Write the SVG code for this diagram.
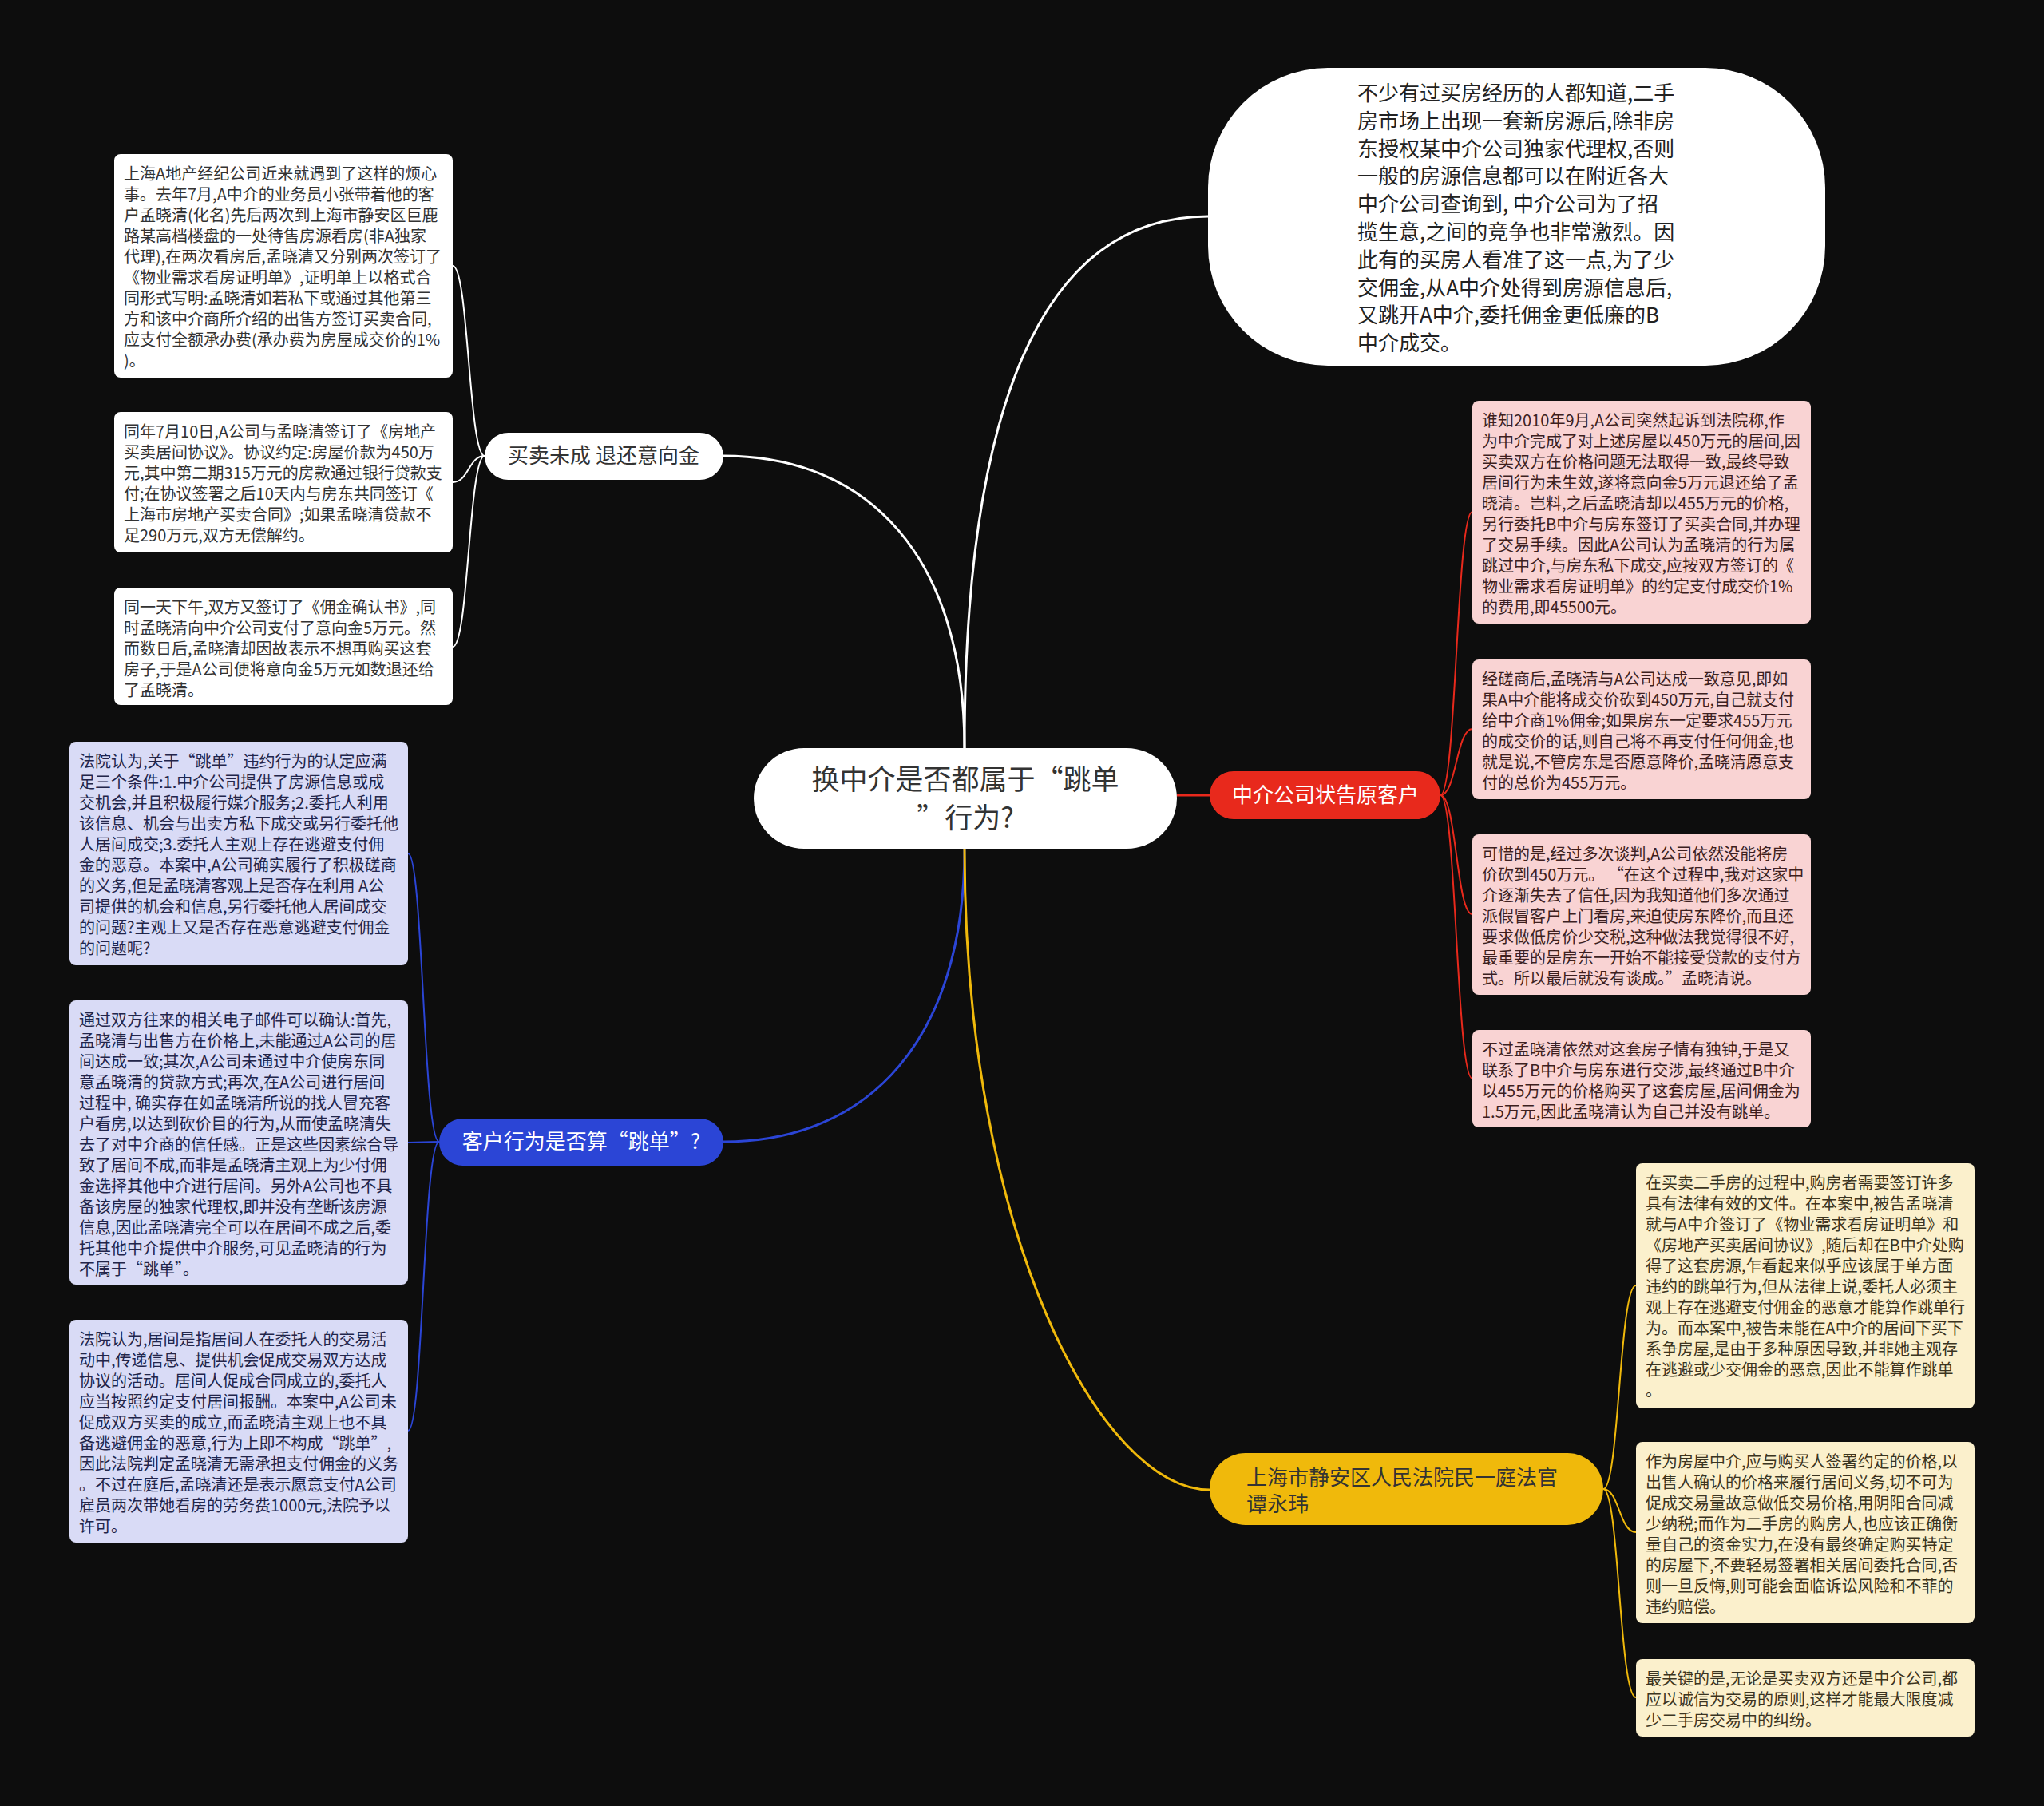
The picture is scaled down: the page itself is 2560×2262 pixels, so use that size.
<svg xmlns="http://www.w3.org/2000/svg" width="2560" height="2262" viewBox="0 0 2560 2262" xml:space="preserve">
<style>
text{font-family:"Noto Sans CJK SC","Noto Sans",sans-serif;}
.bx{font-size:20px;}
.wt{fill:#333333;}
.bt{fill:#22254a;}
.rt{fill:#3d1f1f;}
.yt{fill:#3b3420;}
.lw{fill:none;stroke:#ffffff;}
.lr{fill:none;stroke:#e8291c;}
.lb{fill:none;stroke:#2b45d6;}
.ly{fill:none;stroke:#f0b90b;}
.main{stroke-width:3;}
.sub{stroke-width:2;}
</style>
<rect x="0" y="0" width="2560" height="2262" fill="#0d0d0d"/>
<g id="connectors">
<path class="lw main" d="M1208,937 C1208,520 1300,271 1513,271"/>
<path class="lw main" d="M1208,937 C1208,700 1090,571 906,571"/>
<path class="lr main" d="M1474,996 L1515,996"/>
<path class="lb main" d="M1208,1063 C1208,1300 1090,1430 906,1430"/>
<path class="ly main" d="M1208,1063 C1208,1550 1380,1866 1515,1866"/>
<path class="lw sub" d="M607,571 C587,571 587,333 567,333"/>
<path class="lw sub" d="M607,571 C587,571 587,604 567,604"/>
<path class="lw sub" d="M607,571 C587,571 587,810 567,810"/>
<path class="lr sub" d="M1804,996 C1824,996 1824,641 1844,641"/>
<path class="lr sub" d="M1804,996 C1824,996 1824,913 1844,913"/>
<path class="lr sub" d="M1804,996 C1824,996 1824,1145 1844,1145"/>
<path class="lr sub" d="M1804,996 C1824,996 1824,1351 1844,1351"/>
<path class="lb sub" d="M550,1430 C530,1430 530,1069 511,1069"/>
<path class="lb sub" d="M550,1430 C530,1430 530,1431 511,1431"/>
<path class="lb sub" d="M550,1430 C530,1430 530,1792 511,1792"/>
<path class="ly sub" d="M2008,1865 C2028,1865 2028,1610 2049,1610"/>
<path class="ly sub" d="M2008,1865 C2028,1865 2028,1919 2049,1919"/>
<path class="ly sub" d="M2008,1865 C2028,1865 2028,2126 2049,2126"/>
</g>
<g id="root">
<rect x="944" y="937" width="530" height="126" rx="63" fill="#ffffff"/>
<text x="1209" y="989" font-size="35" fill="#333333" text-anchor="middle"><tspan x="1209">换中介是否都属于“跳单</tspan><tspan x="1209" dy="48">”行为?</tspan></text>
</g>
<g id="bubble">
<rect x="1513" y="85" width="773" height="373" rx="150" fill="#ffffff"/>
<text x="1700" y="126" font-size="26" fill="#222222"><tspan x="1700">不少有过买房经历的人都知道,二手</tspan><tspan x="1700" dy="34.8">房市场上出现一套新房源后,除非房</tspan><tspan x="1700" dy="34.8">东授权某中介公司独家代理权,否则</tspan><tspan x="1700" dy="34.8">一般的房源信息都可以在附近各大</tspan><tspan x="1700" dy="34.8">中介公司查询到, 中介公司为了招</tspan><tspan x="1700" dy="34.8">揽生意,之间的竞争也非常激烈。因</tspan><tspan x="1700" dy="34.8">此有的买房人看准了这一点,为了少</tspan><tspan x="1700" dy="34.8">交佣金,从A中介处得到房源信息后,</tspan><tspan x="1700" dy="34.8">又跳开A中介,委托佣金更低廉的B</tspan><tspan x="1700" dy="34.8">中介成交。</tspan></text>
</g>
<g id="node-maimai">
<rect x="607" y="542" width="299" height="59" rx="29.5" fill="#ffffff"/>
<text x="756" y="580" font-size="26" fill="#333333" text-anchor="middle">买卖未成 退还意向金</text>
</g>
<g id="node-red">
<rect x="1515" y="966" width="289" height="60" rx="30" fill="#e8291c"/>
<text x="1660" y="1005" font-size="26" fill="#ffffff" text-anchor="middle">中介公司状告原客户</text>
</g>
<g id="node-blue">
<rect x="550" y="1401" width="356" height="59" rx="29.5" fill="#2b45d6"/>
<text x="728" y="1439" font-size="26" fill="#ffffff" text-anchor="middle">客户行为是否算“跳单”?</text>
</g>
<g id="node-yellow">
<rect x="1515" y="1820" width="493" height="90" rx="45" fill="#f0b90b"/>
<text x="1561" y="1860" font-size="26" fill="#333333"><tspan x="1561">上海市静安区人民法院民一庭法官</tspan><tspan x="1561" dy="33">谭永玮</tspan></text>
</g>
<g id="box-l1">
<rect x="143" y="193" width="424" height="280" rx="8" fill="#ffffff"/>
<text class="bx wt" x="155" y="225"><tspan x="155">上海A地产经纪公司近来就遇到了这样的烦心</tspan><tspan x="155" dy="26">事。去年7月,A中介的业务员小张带着他的客</tspan><tspan x="155" dy="26">户孟晓清(化名)先后两次到上海市静安区巨鹿</tspan><tspan x="155" dy="26">路某高档楼盘的一处待售房源看房(非A独家</tspan><tspan x="155" dy="26">代理),在两次看房后,孟晓清又分别两次签订了</tspan><tspan x="155" dy="26">《物业需求看房证明单》,证明单上以格式合</tspan><tspan x="155" dy="26">同形式写明:孟晓清如若私下或通过其他第三</tspan><tspan x="155" dy="26">方和该中介商所介绍的出售方签订买卖合同,</tspan><tspan x="155" dy="26">应支付全额承办费(承办费为房屋成交价的1%</tspan><tspan x="155" dy="26">)。</tspan></text>
</g>
<g id="box-l2">
<rect x="143" y="516" width="424" height="176" rx="8" fill="#ffffff"/>
<text class="bx wt" x="155" y="548"><tspan x="155">同年7月10日,A公司与孟晓清签订了《房地产</tspan><tspan x="155" dy="26">买卖居间协议》。协议约定:房屋价款为450万</tspan><tspan x="155" dy="26">元,其中第二期315万元的房款通过银行贷款支</tspan><tspan x="155" dy="26">付;在协议签署之后10天内与房东共同签订《</tspan><tspan x="155" dy="26">上海市房地产买卖合同》;如果孟晓清贷款不</tspan><tspan x="155" dy="26">足290万元,双方无偿解约。</tspan></text>
</g>
<g id="box-l3">
<rect x="143" y="736" width="424" height="147" rx="8" fill="#ffffff"/>
<text class="bx wt" x="155" y="768"><tspan x="155">同一天下午,双方又签订了《佣金确认书》,同</tspan><tspan x="155" dy="26">时孟晓清向中介公司支付了意向金5万元。然</tspan><tspan x="155" dy="26">而数日后,孟晓清却因故表示不想再购买这套</tspan><tspan x="155" dy="26">房子,于是A公司便将意向金5万元如数退还给</tspan><tspan x="155" dy="26">了孟晓清。</tspan></text>
</g>
<g id="box-b1">
<rect x="87" y="929" width="424" height="280" rx="8" fill="#d9dbf6"/>
<text class="bx bt" x="99" y="961"><tspan x="99">法院认为,关于“跳单”违约行为的认定应满</tspan><tspan x="99" dy="26">足三个条件:1.中介公司提供了房源信息或成</tspan><tspan x="99" dy="26">交机会,并且积极履行媒介服务;2.委托人利用</tspan><tspan x="99" dy="26">该信息、机会与出卖方私下成交或另行委托他</tspan><tspan x="99" dy="26">人居间成交;3.委托人主观上存在逃避支付佣</tspan><tspan x="99" dy="26">金的恶意。本案中,A公司确实履行了积极磋商</tspan><tspan x="99" dy="26">的义务,但是孟晓清客观上是否存在利用  A公</tspan><tspan x="99" dy="26">司提供的机会和信息,另行委托他人居间成交</tspan><tspan x="99" dy="26">的问题?主观上又是否存在恶意逃避支付佣金</tspan><tspan x="99" dy="26">的问题呢?</tspan></text>
</g>
<g id="box-b2">
<rect x="87" y="1253" width="424" height="356" rx="8" fill="#d9dbf6"/>
<text class="bx bt" x="99" y="1285"><tspan x="99">通过双方往来的相关电子邮件可以确认:首先,</tspan><tspan x="99" dy="26">孟晓清与出售方在价格上,未能通过A公司的居</tspan><tspan x="99" dy="26">间达成一致;其次,A公司未通过中介使房东同</tspan><tspan x="99" dy="26">意孟晓清的贷款方式;再次,在A公司进行居间</tspan><tspan x="99" dy="26">过程中, 确实存在如孟晓清所说的找人冒充客</tspan><tspan x="99" dy="26">户看房,以达到砍价目的行为,从而使孟晓清失</tspan><tspan x="99" dy="26">去了对中介商的信任感。正是这些因素综合导</tspan><tspan x="99" dy="26">致了居间不成,而非是孟晓清主观上为少付佣</tspan><tspan x="99" dy="26">金选择其他中介进行居间。另外A公司也不具</tspan><tspan x="99" dy="26">备该房屋的独家代理权,即并没有垄断该房源</tspan><tspan x="99" dy="26">信息,因此孟晓清完全可以在居间不成之后,委</tspan><tspan x="99" dy="26">托其他中介提供中介服务,可见孟晓清的行为</tspan><tspan x="99" dy="26">不属于“跳单”。</tspan></text>
</g>
<g id="box-b3">
<rect x="87" y="1653" width="424" height="279" rx="8" fill="#d9dbf6"/>
<text class="bx bt" x="99" y="1685"><tspan x="99">法院认为,居间是指居间人在委托人的交易活</tspan><tspan x="99" dy="26">动中,传递信息、提供机会促成交易双方达成</tspan><tspan x="99" dy="26">协议的活动。居间人促成合同成立的,委托人</tspan><tspan x="99" dy="26">应当按照约定支付居间报酬。本案中,A公司未</tspan><tspan x="99" dy="26">促成双方买卖的成立,而孟晓清主观上也不具</tspan><tspan x="99" dy="26">备逃避佣金的恶意,行为上即不构成“跳单”,</tspan><tspan x="99" dy="26">因此法院判定孟晓清无需承担支付佣金的义务</tspan><tspan x="99" dy="26">。不过在庭后,孟晓清还是表示愿意支付A公司</tspan><tspan x="99" dy="26">雇员两次带她看房的劳务费1000元,法院予以</tspan><tspan x="99" dy="26">许可。</tspan></text>
</g>
<g id="box-r1">
<rect x="1844" y="502" width="424" height="279" rx="8" fill="#f9d3d3"/>
<text class="bx rt" x="1856" y="534"><tspan x="1856">谁知2010年9月,A公司突然起诉到法院称,作</tspan><tspan x="1856" dy="26">为中介完成了对上述房屋以450万元的居间,因</tspan><tspan x="1856" dy="26">买卖双方在价格问题无法取得一致,最终导致</tspan><tspan x="1856" dy="26">居间行为未生效,遂将意向金5万元退还给了孟</tspan><tspan x="1856" dy="26">晓清。岂料,之后孟晓清却以455万元的价格,</tspan><tspan x="1856" dy="26">另行委托B中介与房东签订了买卖合同,并办理</tspan><tspan x="1856" dy="26">了交易手续。因此A公司认为孟晓清的行为属</tspan><tspan x="1856" dy="26">跳过中介,与房东私下成交,应按双方签订的《</tspan><tspan x="1856" dy="26">物业需求看房证明单》的约定支付成交价1%</tspan><tspan x="1856" dy="26">的费用,即45500元。</tspan></text>
</g>
<g id="box-r2">
<rect x="1844" y="826" width="424" height="175" rx="8" fill="#f9d3d3"/>
<text class="bx rt" x="1856" y="858"><tspan x="1856">经磋商后,孟晓清与A公司达成一致意见,即如</tspan><tspan x="1856" dy="26">果A中介能将成交价砍到450万元,自己就支付</tspan><tspan x="1856" dy="26">给中介商1%佣金;如果房东一定要求455万元</tspan><tspan x="1856" dy="26">的成交价的话,则自己将不再支付任何佣金,也</tspan><tspan x="1856" dy="26">就是说,不管房东是否愿意降价,孟晓清愿意支</tspan><tspan x="1856" dy="26">付的总价为455万元。</tspan></text>
</g>
<g id="box-r3">
<rect x="1844" y="1045" width="424" height="201" rx="8" fill="#f9d3d3"/>
<text class="bx rt" x="1856" y="1077"><tspan x="1856">可惜的是,经过多次谈判,A公司依然没能将房</tspan><tspan x="1856" dy="26">价砍到450万元。 “在这个过程中,我对这家中</tspan><tspan x="1856" dy="26">介逐渐失去了信任,因为我知道他们多次通过</tspan><tspan x="1856" dy="26">派假冒客户上门看房,来迫使房东降价,而且还</tspan><tspan x="1856" dy="26">要求做低房价少交税,这种做法我觉得很不好,</tspan><tspan x="1856" dy="26">最重要的是房东一开始不能接受贷款的支付方</tspan><tspan x="1856" dy="26">式。所以最后就没有谈成。”孟晓清说。</tspan></text>
</g>
<g id="box-r4">
<rect x="1844" y="1290" width="424" height="122" rx="8" fill="#f9d3d3"/>
<text class="bx rt" x="1856" y="1322"><tspan x="1856">不过孟晓清依然对这套房子情有独钟,于是又</tspan><tspan x="1856" dy="26">联系了B中介与房东进行交涉,最终通过B中介</tspan><tspan x="1856" dy="26">以455万元的价格购买了这套房屋,居间佣金为</tspan><tspan x="1856" dy="26">1.5万元,因此孟晓清认为自己并没有跳单。</tspan></text>
</g>
<g id="box-y1">
<rect x="2049" y="1457" width="424" height="307" rx="8" fill="#fbf0cc"/>
<text class="bx yt" x="2061" y="1489"><tspan x="2061">在买卖二手房的过程中,购房者需要签订许多</tspan><tspan x="2061" dy="26">具有法律有效的文件。在本案中,被告孟晓清</tspan><tspan x="2061" dy="26">就与A中介签订了《物业需求看房证明单》和</tspan><tspan x="2061" dy="26">《房地产买卖居间协议》,随后却在B中介处购</tspan><tspan x="2061" dy="26">得了这套房源,乍看起来似乎应该属于单方面</tspan><tspan x="2061" dy="26">违约的跳单行为,但从法律上说,委托人必须主</tspan><tspan x="2061" dy="26">观上存在逃避支付佣金的恶意才能算作跳单行</tspan><tspan x="2061" dy="26">为。而本案中,被告未能在A中介的居间下买下</tspan><tspan x="2061" dy="26">系争房屋,是由于多种原因导致,并非她主观存</tspan><tspan x="2061" dy="26">在逃避或少交佣金的恶意,因此不能算作跳单</tspan><tspan x="2061" dy="26">。</tspan></text>
</g>
<g id="box-y2">
<rect x="2049" y="1806" width="424" height="227" rx="8" fill="#fbf0cc"/>
<text class="bx yt" x="2061" y="1838"><tspan x="2061">作为房屋中介,应与购买人签署约定的价格,以</tspan><tspan x="2061" dy="26">出售人确认的价格来履行居间义务,切不可为</tspan><tspan x="2061" dy="26">促成交易量故意做低交易价格,用阴阳合同减</tspan><tspan x="2061" dy="26">少纳税;而作为二手房的购房人,也应该正确衡</tspan><tspan x="2061" dy="26">量自己的资金实力,在没有最终确定购买特定</tspan><tspan x="2061" dy="26">的房屋下,不要轻易签署相关居间委托合同,否</tspan><tspan x="2061" dy="26">则一旦反悔,则可能会面临诉讼风险和不菲的</tspan><tspan x="2061" dy="26">违约赔偿。</tspan></text>
</g>
<g id="box-y3">
<rect x="2049" y="2078" width="424" height="97" rx="8" fill="#fbf0cc"/>
<text class="bx yt" x="2061" y="2110"><tspan x="2061">最关键的是,无论是买卖双方还是中介公司,都</tspan><tspan x="2061" dy="26">应以诚信为交易的原则,这样才能最大限度减</tspan><tspan x="2061" dy="26">少二手房交易中的纠纷。</tspan></text>
</g>
</svg>
